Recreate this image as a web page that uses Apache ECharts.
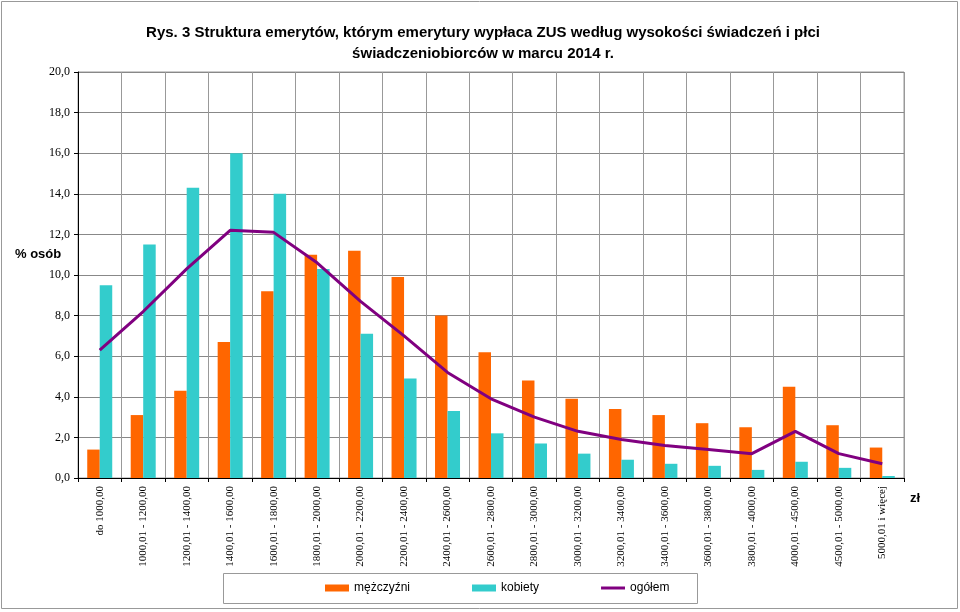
<!DOCTYPE html>
<html><head><meta charset="utf-8">
<script src="https://cdn.jsdelivr.net/npm/echarts@6/dist/echarts.min.js"></script>
<style>html,body{margin:0;padding:0;background:#fff}#c{width:960px;height:612px}</style>
</head><body><div id="c"></div>
<script>
const categories = ["do 1000,00","1000,01 - 1200,00","1200,01 - 1400,00","1400,01 - 1600,00","1600,01 - 1800,00","1800,01 - 2000,00","2000,01 - 2200,00","2200,01 - 2400,00","2400,01 - 2600,00","2600,01 - 2800,00","2800,01 - 3000,00","3000,01 - 3200,00","3200,01 - 3400,00","3400,01 - 3600,00","3600,01 - 3800,00","3800,01 - 4000,00","4000,01 - 4500,00","4500,01 - 5000,00","5000,01 i więcej"];
const men   = [1.4,3.1,4.3,6.7,9.2,11.0,11.2,9.9,8.0,6.2,4.8,3.9,3.4,3.1,2.7,2.5,4.5,2.6,1.5];
const women = [9.5,11.5,14.3,16.0,14.0,10.3,7.1,4.9,3.3,2.2,1.7,1.2,0.9,0.7,0.6,0.4,0.8,0.5,0.1];
const total = [6.3,8.2,10.3,12.2,12.1,10.6,8.7,7.0,5.2,3.9,3.0,2.3,1.9,1.6,1.4,1.2,2.3,1.2,0.7];
const seriesNames = ["mężczyźni","kobiety","ogółem"];
const titleText = "Rys. 3 Struktura emerytów, którym emerytury wypłaca ZUS według wysokości świadczeń i płci\nświadczeniobiorców w marcu 2014 r.";

const chart = echarts.init(document.getElementById('c'));
const serif = '"Liberation Serif","Times New Roman",serif';
const sans = '"Liberation Sans",Arial,sans-serif';
chart.setOption({
  animation: false,
  title: {text: titleText, left: 478, top: 17, textAlign: 'center',
    textStyle: {fontFamily: sans, fontSize: 15, fontWeight: 'bold', color: '#000', lineHeight: 21}},
  grid: {left: 78, right: 56, top: 72, bottom: 134, show: true, borderColor: '#999', borderWidth: 1},
  legend: {data: [
      {name: seriesNames[0], icon: 'rect'},
      {name: seriesNames[1], icon: 'rect'},
      {name: seriesNames[2], icon: 'path://M0,0H24V3H0Z'}
    ], left: 325, top: 582, padding: 0, itemWidth: 24, itemHeight: 7, itemGap: 62, symbolKeepAspect: true,
    textStyle: {fontFamily: sans, fontSize: 12, color: '#000'}},
  graphic: [
    {type: 'rect', shape: {x: 1.5, y: 1.5, width: 956, height: 607}, style: {fill: 'none', stroke: '#999', lineWidth: 1}},
    {type: 'rect', shape: {x: 223.5, y: 573.5, width: 474, height: 30}, style: {fill: 'none', stroke: '#999', lineWidth: 1}},
    {type: 'text', left: 15, top: 248, style: {text: '% osób', font: 'bold 13px "Liberation Sans",Arial,sans-serif', fill: '#000'}},
    {type: 'text', left: 910, top: 492, style: {text: 'zł', font: 'bold 13px "Liberation Sans",Arial,sans-serif', fill: '#000'}}
  ],
  xAxis: {type: 'category', data: categories, boundaryGap: true,
    axisLine: {lineStyle: {color: '#000', width: 1}},
    axisTick: {show: true, length: 4, lineStyle: {color: '#000'}},
    splitLine: {show: true, lineStyle: {color: '#999', width: 1}},
    axisLabel: {rotate: 90, interval: 0, margin: 8, fontFamily: serif, fontSize: 11, color: '#000'}},
  yAxis: {type: 'value', min: 0, max: 20, interval: 2,
    axisLine: {show: true, lineStyle: {color: '#000', width: 1}},
    axisTick: {show: true, length: 4, lineStyle: {color: '#000'}},
    splitLine: {show: true, lineStyle: {color: '#888', width: 1}},
    axisLabel: {margin: 8, fontFamily: serif, fontSize: 12, color: '#000',
      formatter: v => v.toFixed(1).replace('.', ',')}},
  series: [
    {name: seriesNames[0], type: 'bar', data: men, barWidth: 12.5, barGap: '0%', itemStyle: {color: '#FF6600'}},
    {name: seriesNames[1], type: 'bar', data: women, barWidth: 12.5, barGap: '0%', itemStyle: {color: '#33CCCC'}},
    {name: seriesNames[2], type: 'line', data: total, symbol: 'none', lineStyle: {color: '#800080', width: 3}, itemStyle: {color: '#800080'}, z: 5}
  ]
});
</script></body></html>
